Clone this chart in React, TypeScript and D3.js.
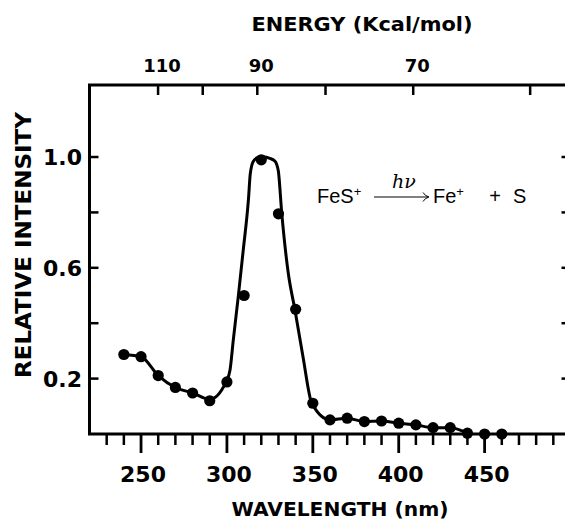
import React from 'react';
import * as d3 from 'd3';

// Measured points (wavelength nm, relative intensity)
const wavelengths = [240, 250, 260, 270, 280, 290, 300, 310, 320, 330, 340, 350, 360, 370, 380, 390, 400, 410, 420, 430, 440, 450, 460];
const intensities = [0.287, 0.279, 0.211, 0.168, 0.148, 0.12, 0.188, 0.5, 0.99, 0.795, 0.45, 0.111, 0.051, 0.057, 0.045, 0.047, 0.039, 0.033, 0.023, 0.023, 0.003, 0.0, 0.0];

// Hand-drawn fit curve
const curveWavelengths = [240, 250, 260, 270, 280, 290, 299.5, 301.8, 303.7, 306.6, 309.5, 312.5, 313.6, 315.4, 318, 321, 325, 328, 329.9, 331.9, 335.7, 339.6, 344.3, 349.4, 360, 370, 380, 390, 400, 410, 420, 430, 440];
const curveIntensities = [0.287, 0.279, 0.211, 0.168, 0.148, 0.125, 0.188, 0.231, 0.339, 0.496, 0.664, 0.845, 0.94, 0.985, 0.998, 1.0, 0.995, 0.985, 0.95, 0.798, 0.581, 0.448, 0.278, 0.111, 0.051, 0.057, 0.045, 0.047, 0.039, 0.033, 0.023, 0.023, 0.003];

const xMajorTicks = [250, 300, 350, 400, 450];
const xMinorTicks = [230, 240, 260, 270, 280, 290, 310, 320, 330, 340, 360, 370, 380, 390, 410, 420, 430, 440, 460, 470, 480, 490];
const yTicks = [0.2, 0.4, 0.6, 0.8, 1.0];
const yTickLabels = ['0.2', '0.6', '1.0'];
const yTickLabelValues = [0.2, 0.6, 1.0];
const energyTicks = [110, 100, 90, 80, 70, 60];
const energyLabels = [110, 90, 70];
const HC = 28591; // nm * kcal/mol

const W = 565;
const H = 522;

export default function App() {
  const x = d3.scaleLinear().domain([220, 500]).range([89.5, 570.5]);
  const y = d3.scaleLinear().domain([0, 1.26]).range([434, 85]);
  const x0 = x(220);
  const x1 = x(500);
  const y0 = y(0);
  const yTop = y(1.26);

  const curvePts: [number, number][] = curveWavelengths.map((w, i) => [w, curveIntensities[i]]);
  const line = d3
    .line<[number, number]>()
    .x((d) => x(d[0]))
    .y((d) => y(d[1]))
    .curve(d3.curveMonotoneX);

  const bold = { fontFamily: 'DejaVu Sans', fontWeight: 700 as const };
  const sans = { fontFamily: 'Liberation Sans, Arial, sans-serif' };

  return (
    <svg width={W} height={H} style={{ position: 'absolute', left: 0, top: 0, display: 'block', background: '#fff' }}>
      <rect x={0} y={0} width={W} height={H} fill="#fff" />
      {/* frame */}
      <path d={`M${x0},${y0} L${x0},${yTop} L${x1},${yTop} L${x1},${y0} Z`} fill="none" stroke="#000" strokeWidth={3} />

      {/* bottom ticks (outward) */}
      {xMajorTicks.map((t) => (
        <line key={'M' + t} x1={x(t)} x2={x(t)} y1={y0} y2={y0 + 19} stroke="#000" strokeWidth={2.8} />
      ))}
      {xMinorTicks.map((t) => (
        <line key={'m' + t} x1={x(t)} x2={x(t)} y1={y0} y2={y0 + 11} stroke="#000" strokeWidth={2.5} />
      ))}
      {xMajorTicks.map((t) => (
        <text key={'L' + t} x={x(t) + 2} y={482} textAnchor="middle" fontSize={22} {...bold}>
          {t}
        </text>
      ))}

      {/* left/right ticks (inward) */}
      {yTicks.map((t) => (
        <g key={'y' + t}>
          <line x1={x0} x2={x0 + 9} y1={y(t)} y2={y(t)} stroke="#000" strokeWidth={2.5} />
          <line x1={x1} x2={x1 - 9} y1={y(t)} y2={y(t)} stroke="#000" strokeWidth={2.5} />
        </g>
      ))}
      {yTickLabelValues.map((t, i) => (
        <text key={'yl' + t} x={82} y={y(t) + 8} textAnchor="end" fontSize={22} {...bold}>
          {yTickLabels[i]}
        </text>
      ))}

      {/* top energy axis */}
      {energyTicks.map((e) => (
        <line key={'e' + e} x1={x(HC / e)} x2={x(HC / e)} y1={yTop} y2={yTop + 10} stroke="#000" strokeWidth={2.5} />
      ))}
      {energyLabels.map((e) => (
        <text key={'el' + e} x={x(HC / e) + 4} y={72} textAnchor="middle" fontSize={18} {...bold}>
          {e}
        </text>
      ))}

      {/* titles */}
      <text x={362} y={31} textAnchor="middle" fontSize={20} textLength={221} lengthAdjust="spacingAndGlyphs" {...bold}>
        ENERGY (Kcal/mol)
      </text>
      <text x={340} y={516} textAnchor="middle" fontSize={19} textLength={217} lengthAdjust="spacingAndGlyphs" {...bold}>
        WAVELENGTH (nm)
      </text>
      <text
        transform={`translate(31,245) rotate(-90)`}
        textAnchor="middle"
        fontSize={22}
        textLength={266}
        lengthAdjust="spacingAndGlyphs"
        {...bold}
      >
        RELATIVE INTENSITY
      </text>

      {/* fit curve */}
      <path d={line(curvePts) || ''} fill="none" stroke="#000" strokeWidth={3} strokeLinejoin="round" />

      {/* points */}
      {wavelengths.map((w, i) => (
        <circle key={'p' + w} cx={x(w)} cy={y(intensities[i])} r={5.6} fill="#000" />
      ))}

      {/* reaction annotation */}
      <g>
        <text x={317} y={203} fontSize={20} {...sans}>
          FeS
          <tspan dy={-7.5} fontSize={13}>+</tspan>
        </text>
        <text x={404} y={188} textAnchor="middle" fontSize={19} fontStyle="italic" fontFamily="DejaVu Serif, Liberation Serif, serif">
          hν
        </text>
        <line x1={374} x2={428} y1={197} y2={197} stroke="#000" strokeWidth={1} />
        <path d="M423,192.5 Q425,196 429,197 Q425,198 423,201.5" fill="none" stroke="#000" strokeWidth={1} />
        <text x={433} y={203} fontSize={20} {...sans}>
          Fe
          <tspan dy={-7.5} fontSize={13}>+</tspan>
        </text>
        <text x={495} y={203} textAnchor="middle" fontSize={20} {...sans}>
          +
        </text>
        <text x={513} y={203} fontSize={20} {...sans}>
          S
        </text>
      </g>
    </svg>
  );
}
